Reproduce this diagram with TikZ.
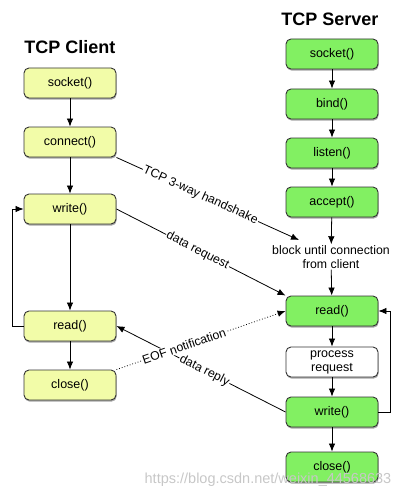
\documentclass[tikz,border=0pt]{standalone}
\usepackage{fontspec}
\setmainfont{Liberation Sans}
\usetikzlibrary{arrows.meta,shadows}
\definecolor{clientfill}{HTML}{F2FCA8}
\definecolor{serverfill}{HTML}{82F062}
\definecolor{boxline}{HTML}{333333}
\tikzset{
  fnbox/.style={draw=boxline, line width=0.9pt, rounded corners=5pt, minimum width=92pt, minimum height=30pt,
     inner sep=0pt, font=\fontsize{12.5}{14}\selectfont, align=center,
     drop shadow={shadow xshift=0.6pt, shadow yshift=-1.6pt, opacity=0.35, fill=black}},
  clientbox/.style={fnbox, fill=clientfill},
  serverbox/.style={fnbox, fill=serverfill},
  plainbox/.style={fnbox, fill=white},
  title/.style={font=\fontsize{18}{20}\selectfont\bfseries},
  arr/.style={draw=black, line width=0.8pt, -{Latex[length=8pt,width=6.5pt]}},
  lbl/.style={font=\fontsize{12.3}{14}\selectfont, fill=white, inner sep=1pt, sloped},
  note/.style={font=\fontsize{12.3}{14}\selectfont, align=center, inner sep=1pt},
  wmark/.style={font=\fontsize{14.5}{16}\selectfont, text=black!22}
}
\begin{document}
\begin{tikzpicture}[x=1pt,y=-1pt]
\useasboundingbox (0,0) rectangle (414,500);
% titles
\node[title] (tclient) at (70,47) {TCP Client};
\node[title] (tserver) at (330,19) {TCP Server};
% client
\node[clientbox] (cs) at (70,83) {socket()};
\node[clientbox] (cc) at (70,142) {connect()};
\node[clientbox] (cw) at (70,209) {write()};
\node[clientbox] (cr) at (70,326) {read()};
\node[clientbox] (ccl) at (70,385) {close()};
% server
\node[serverbox] (ss) at (332,54) {socket()};
\node[serverbox] (sb) at (332,104) {bind()};
\node[serverbox] (sl) at (332,153) {listen()};
\node[serverbox] (sa) at (332,202) {accept()};
\node[note] (blk) at (331,257) {block until connection\\from client};
\node[serverbox] (sr) at (332,311) {read()};
\node[plainbox] (sp) at (332,362) {process\\request};
\node[serverbox] (sw) at (332,412) {write()};
\node[serverbox] (scl) at (332,467) {close()};
% coordinates
\coordinate (cloop) at (12,0);
\coordinate (sloop) at (390,0);
\coordinate (hsend) at (299,240);
% client flow
\draw[arr] (cs) -- (cc);
\draw[arr] (cc) -- (cw);
\draw[arr] (cw) -- (cr);
\draw[arr] (cr) -- (ccl);
\draw[arr] (cr.west) -- (cr.west -| cloop) |- (cw.west);
% server flow
\draw[arr] (ss) -- (sb);
\draw[arr] (sb) -- (sl);
\draw[arr] (sl) -- (sa);
\draw[arr] (sa) -- (blk);
\draw[arr] (blk) -- (sr);
\draw[arr] (sr) -- (sp);
\draw[arr] (sp) -- (sw);
\draw[arr] (sw) -- (scl);
\draw[arr] (sw.east) -- (sw.east -| sloop) |- (sr.east);
% messages
\draw[arr] (cc.south east) -- node[lbl, pos=0.46] {TCP 3-way handshake} (hsend);
\draw[arr] (cw.east) -- node[lbl, pos=0.48] {data request} (sr.north west);
\draw[arr] (sw.west) -- node[lbl, pos=0.48] {data reply} (cr.east);
\draw[arr, dotted] (ccl.north east) -- node[lbl, pos=0.40] {EOF notification} (sr.west);
% watermark
\node[wmark] (wm) at (268,480) {https://blog.csdn.net/weixin\_44568633};
\end{tikzpicture}
\end{document}
